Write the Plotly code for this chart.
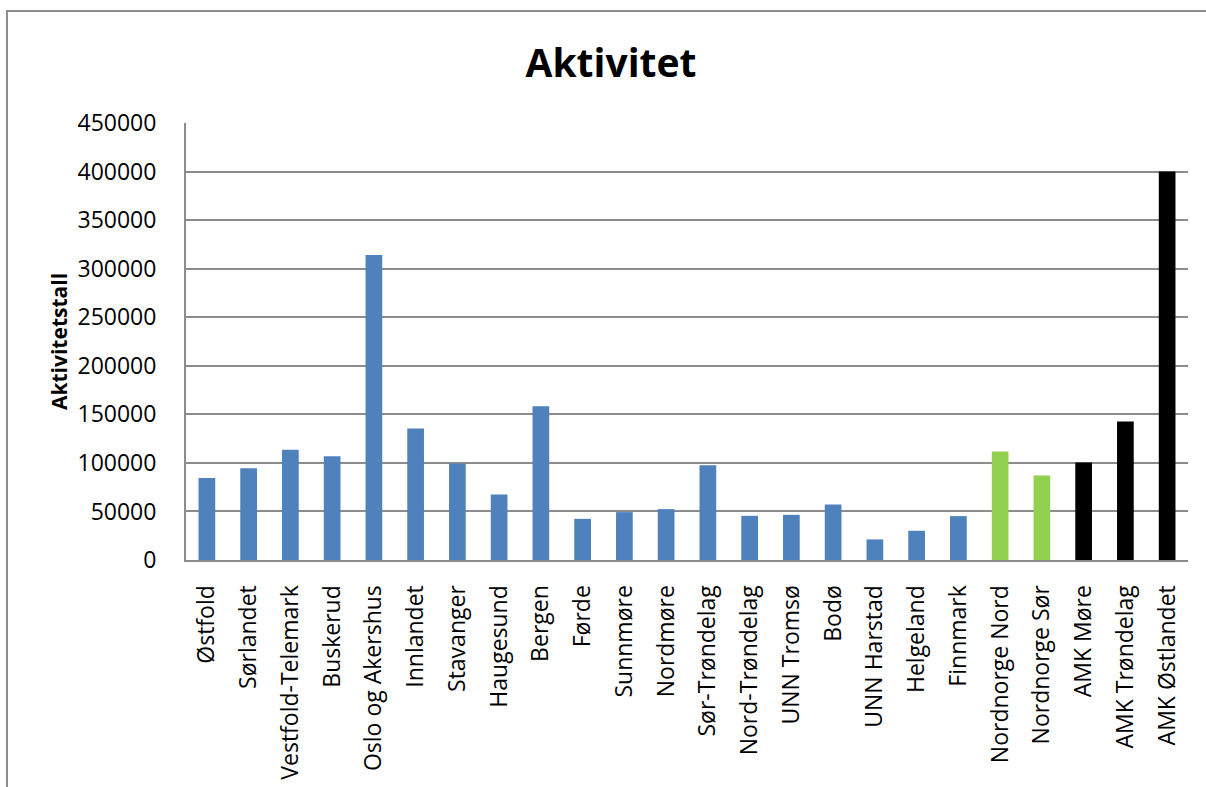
import plotly.graph_objects as go

# Activity per region / centre
categories = [
    "Østfold", "Sørlandet", "Vestfold-Telemark", "Buskerud", "Oslo og Akershus",
    "Innlandet", "Stavanger", "Haugesund", "Bergen", "Førde", "Sunnmøre",
    "Nordmøre", "Sør-Trøndelag", "Nord-Trøndelag", "UNN Tromsø", "Bodø",
    "UNN Harstad", "Helgeland", "Finnmark", "Nordnorge Nord", "Nordnorge Sør",
    "AMK Møre", "AMK Trøndelag", "AMK Østlandet",
]
values = [
    84500, 94500, 113500, 106800, 314000,
    135500, 99300, 67400, 158400, 42400, 49300,
    52400, 97500, 45500, 46500, 57200,
    21200, 30100, 45200, 111800, 87000,
    100400, 142700, 400000,
]
# colour group per bar: regular, Nordnorge, AMK
groups = ["base"] * 19 + ["nord"] * 2 + ["amk"] * 3
group_colors = {"base": "#4F81BD", "nord": "#92D050", "amk": "#000000"}

y_ticks = list(range(0, 450001, 50000))

W, H = 1206, 787
L, R, T, B = 186, 18, 123, 227
pw, ph = W - L - R, H - T - B

fig = go.Figure(
    go.Bar(
        x=categories,
        y=values,
        marker=dict(color=[group_colors[g] for g in groups], line=dict(width=0)),
        width=0.4,
    )
)

font = "Open Sans, DejaVu Sans, sans-serif"

fig.update_layout(
    width=W,
    height=H,
    margin=dict(l=L, r=R, t=T, b=B, autoexpand=False),
    paper_bgcolor="white",
    plot_bgcolor="white",
    showlegend=False,
    font=dict(family=font, color="black", size=23),
    title=dict(
        text="<b>Aktivitet</b>",
        x=611 / W,
        xanchor="center",
        y=1 - 63 / H,
        yanchor="middle",
        font=dict(size=39, family=font, color="black"),
    ),
    bargap=0.6,
)

fig.update_yaxes(
    range=[0, 450000],
    tickvals=y_ticks,
    ticktext=[str(v) for v in y_ticks],
    showgrid=True,
    gridcolor="#8C8C8C",
    gridwidth=2,
    showline=True,
    linecolor="#8C8C8C",
    linewidth=2,
    zeroline=False,
    ticks="",
    ticklabelstandoff=23,
    tickfont=dict(size=23, family=font, color="black"),
    title=dict(
        text="<b>Aktivitetstall</b>",
        font=dict(size=21, family=font, color="black"),
        standoff=4,
    ),
)

fig.update_xaxes(
    showline=True,
    linecolor="#8C8C8C",
    linewidth=2,
    tickangle=-90,
    ticks="",
    ticklabelstandoff=14,
    tickfont=dict(size=23, family=font, color="black"),
    range=[-0.5, len(categories) - 0.5],
)

# outer chart frame
fig.add_shape(
    type="rect",
    xref="paper",
    yref="paper",
    x0=(7 - L) / pw,
    x1=(W + 10 - L) / pw,
    y0=-(H + 10 - (T + ph)) / ph,
    y1=(T + ph - 11) / ph,
    line=dict(color="#8C8C8C", width=2),
    fillcolor="rgba(0,0,0,0)",
    layer="below",
)

fig.write_html("out.html")
